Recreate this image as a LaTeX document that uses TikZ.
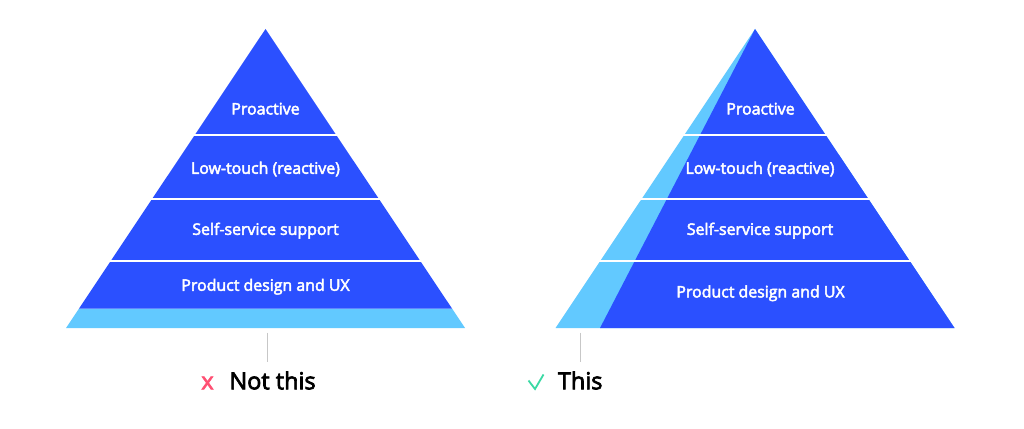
\documentclass[tikz,border=0pt]{standalone}
\usepackage{fontspec}
\setmainfont{Open Sans}
\newfontfamily\semi[FakeBold=3]{Open Sans}
\definecolor{deep}{HTML}{2B50FF}
\definecolor{sky}{HTML}{62C9FF}
\definecolor{nored}{HTML}{FF4F72}
\definecolor{okgreen}{HTML}{3BD9A4}
\begin{document}
\begin{tikzpicture}[
  x=1pt, y=-1pt,
  tier/.style={fill=deep, draw=none},
  ground/.style={fill=sky, draw=none},
  gap/.style={line width=2.4pt, draw=white},
  lbl/.style={text=white, inner sep=0pt, font=\semi\fontsize{15.9}{17}\selectfont},
  verdict/.style={text=black, inner sep=0pt, anchor=base west, font=\semi\fontsize{23.5}{28}\selectfont},
  tick/.style={line width=0.8pt, draw=black!22}
]
\useasboundingbox (0,0) rectangle (1024,428);

% (pixel coordinates, y pointing down)
\coordinate (la)  at (265.5,29);
\coordinate (lbl) at (66,328);
\coordinate (lbr) at (465,328);
\coordinate (lgl) at (79,308.5);
\coordinate (lgr) at (452,308.5);
\coordinate (ra)  at (755,29);
\coordinate (rbl) at (555.5,328);
\coordinate (rbr) at (954.5,328);
\coordinate (rdl) at (600,328);

% --- Left pyramid (Not this) ---
\path[ground] (lbl) -- (lbr) -- (lgr) -- (lgl) -- cycle;
\path[tier] (la) -- (lgr) -- (lgl) -- cycle;
\path[gap] (190,135) -- (341,135);
\path[gap] (147,199) -- (384,199);
\path[gap] (105,261) -- (426,261);

\node[lbl] (l1) at (265.5,108.7) {Proactive};
\node[lbl] (l2) at (265.5,169) {Low-touch (reactive)};
\node[lbl] (l3) at (265.5,230.7) {Self-service support};
\node[lbl] (l4) at (265.5,286.7) {Product design and UX};

% --- Right pyramid (This) ---
\path[ground] (ra) -- (rbr) -- (rbl) -- cycle;
\path[tier] (ra) -- (rbr) -- (rdl) -- cycle;
\path[gap] (679,135) -- (831,135);
\path[gap] (636,199) -- (874,199);
\path[gap] (594,261) -- (916,261);

\node[lbl] (r1) at (760.5,108.7) {Proactive};
\node[lbl] (r2) at (760,169) {Low-touch (reactive)};
\node[lbl] (r3) at (760,230.7) {Self-service support};
\node[lbl] (r4) at (760.5,293.3) {Product design and UX};

% --- Captions ---
\coordinate (lt1) at (267.3,332.5);
\coordinate (lt2) at (267.3,362);
\coordinate (rt1) at (580,332.5);
\coordinate (rt2) at (580,362);
\path[tick] (lt1) -- (lt2);
\path[tick] (rt1) -- (rt2);

\node[verdict, text=nored, anchor=base] (nx) at (207.5,389.3) {x};
\node[verdict] (nt) at (229.3,389.3) {Not this};
\draw[okgreen, line width=1.8pt] (528.5,380.5) -- (535,389) -- (543.5,374.5);
\node[verdict] (yt) at (557.7,389.3) {This};

\end{tikzpicture}
\end{document}
